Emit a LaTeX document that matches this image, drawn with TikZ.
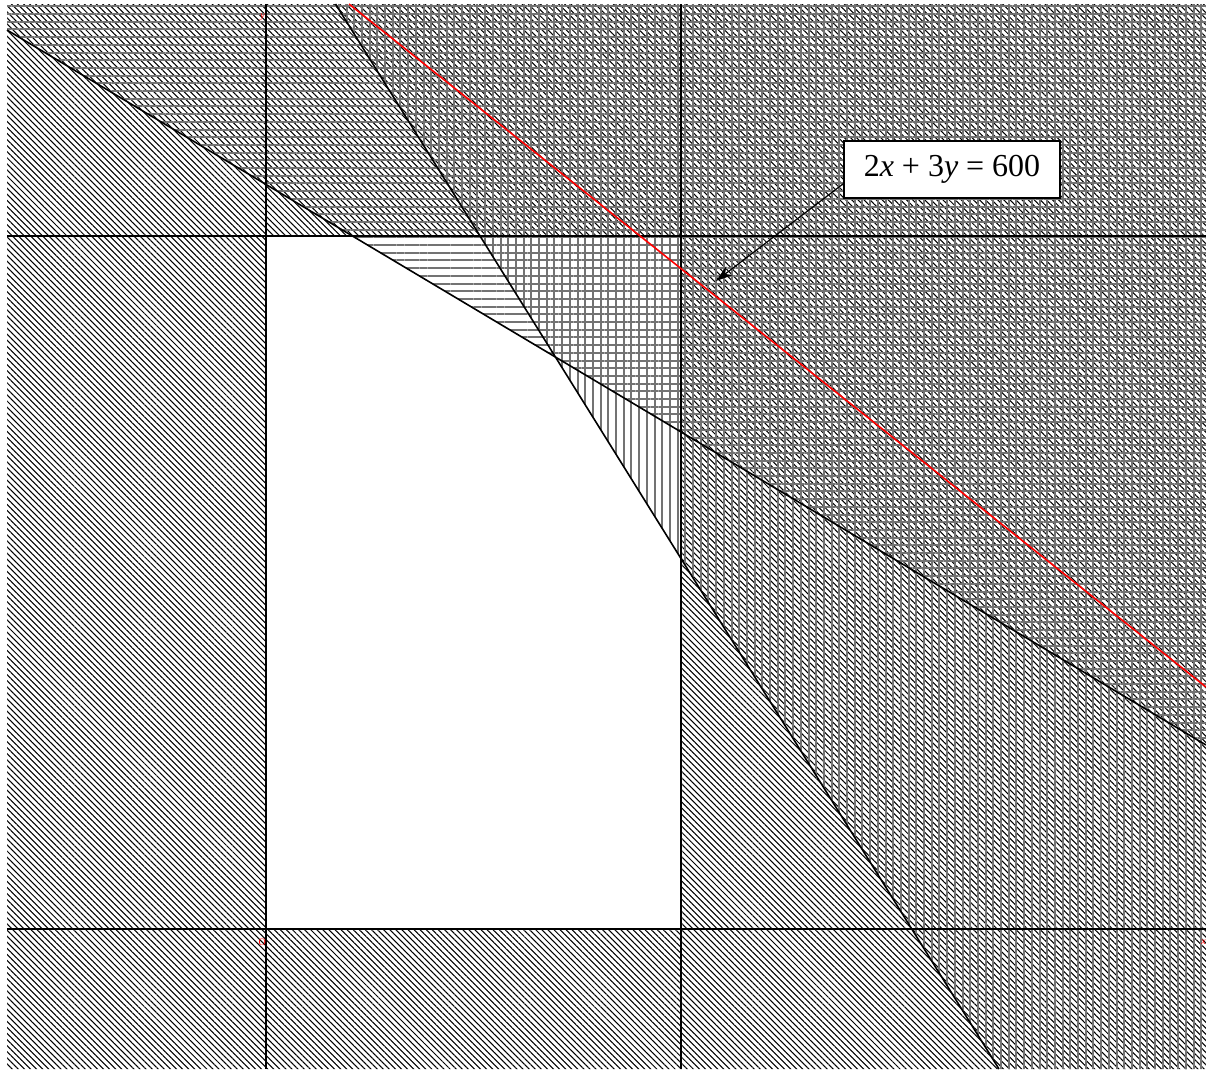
\documentclass[tikz,border=0pt]{standalone}
\usepackage{fontspec}
\setmainfont{Liberation Serif}
\usetikzlibrary{patterns.meta,arrows.meta}
\begin{document}
\begin{tikzpicture}[x=1pt,y=-1pt,
  diag/.style={pattern={Lines[angle=-45,distance=4.3pt,line width=1.05pt]},pattern color=black},
  horiz/.style={pattern={Lines[angle=0,distance=7.7pt,line width=2pt]},pattern color=black!55},
  vert/.style={pattern={Lines[angle=90,distance=7.7pt,line width=2pt]},pattern color=black!55},
  axisline/.style={line width=1.6pt,black},
  redline/.style={line width=1.6pt,red},
  lbl/.style={font=\fontsize{10}{11}\selectfont\itshape,text=red,inner sep=0pt}]
\useasboundingbox (0,0) rectangle (1206,1069);
% corner coordinates
\coordinate (TL) at (7,4);
\coordinate (TR) at (1206,4);
\coordinate (BR) at (1206,1069);
\coordinate (BL) at (7,1069);
% constraint lines
\coordinate (L1a) at (7,30);
\coordinate (L1b) at (1206,745);
\coordinate (L2a) at (335.5,4);
\coordinate (L2b) at (999,1069);
\coordinate (Ra) at (349,4);
\coordinate (Rb) at (1206,687);
% hatching
\fill[diag,even odd rule] (TL) rectangle (BR) (266,236) rectangle (681,929);
\fill[horiz] (TL) -- (L1a) -- (L1b) -- (TR) -- cycle;
\fill[vert] (L2a) -- (TR) -- (BR) -- (L2b) -- cycle;
% lines
\draw[axisline] (266,4) -- (266,1069);
\draw[axisline] (681,4) -- (681,1069);
\draw[axisline] (7,236) -- (1206,236);
\draw[axisline] (7,929) -- (1206,929);
\draw[axisline] (L1a) -- (L1b);
\draw[axisline] (L2a) -- (L2b);
\draw[redline] (Ra) -- (Rb);
% small labels
\node[lbl,anchor=east] (ylab) at (265,17) {y};
\node[lbl,anchor=east] (olab) at (266,942) {\upshape O};
\node[lbl,anchor=east] (xlab) at (1206,942) {x};
% label box and arrow
\node[draw,fill=white,line width=1.4pt,minimum width=216pt,minimum height=57pt,inner sep=0pt,
  font=\fontsize{32}{38}\selectfont] (eq) at (952,169.5) {2\textit{x} + 3\textit{y} = 600};
\coordinate (tip) at (716,281);
\draw[line width=1.2pt,-{Stealth[length=17pt,width=11pt]}] ([yshift=15pt]eq.south west) -- (tip);
\end{tikzpicture}
\end{document}
